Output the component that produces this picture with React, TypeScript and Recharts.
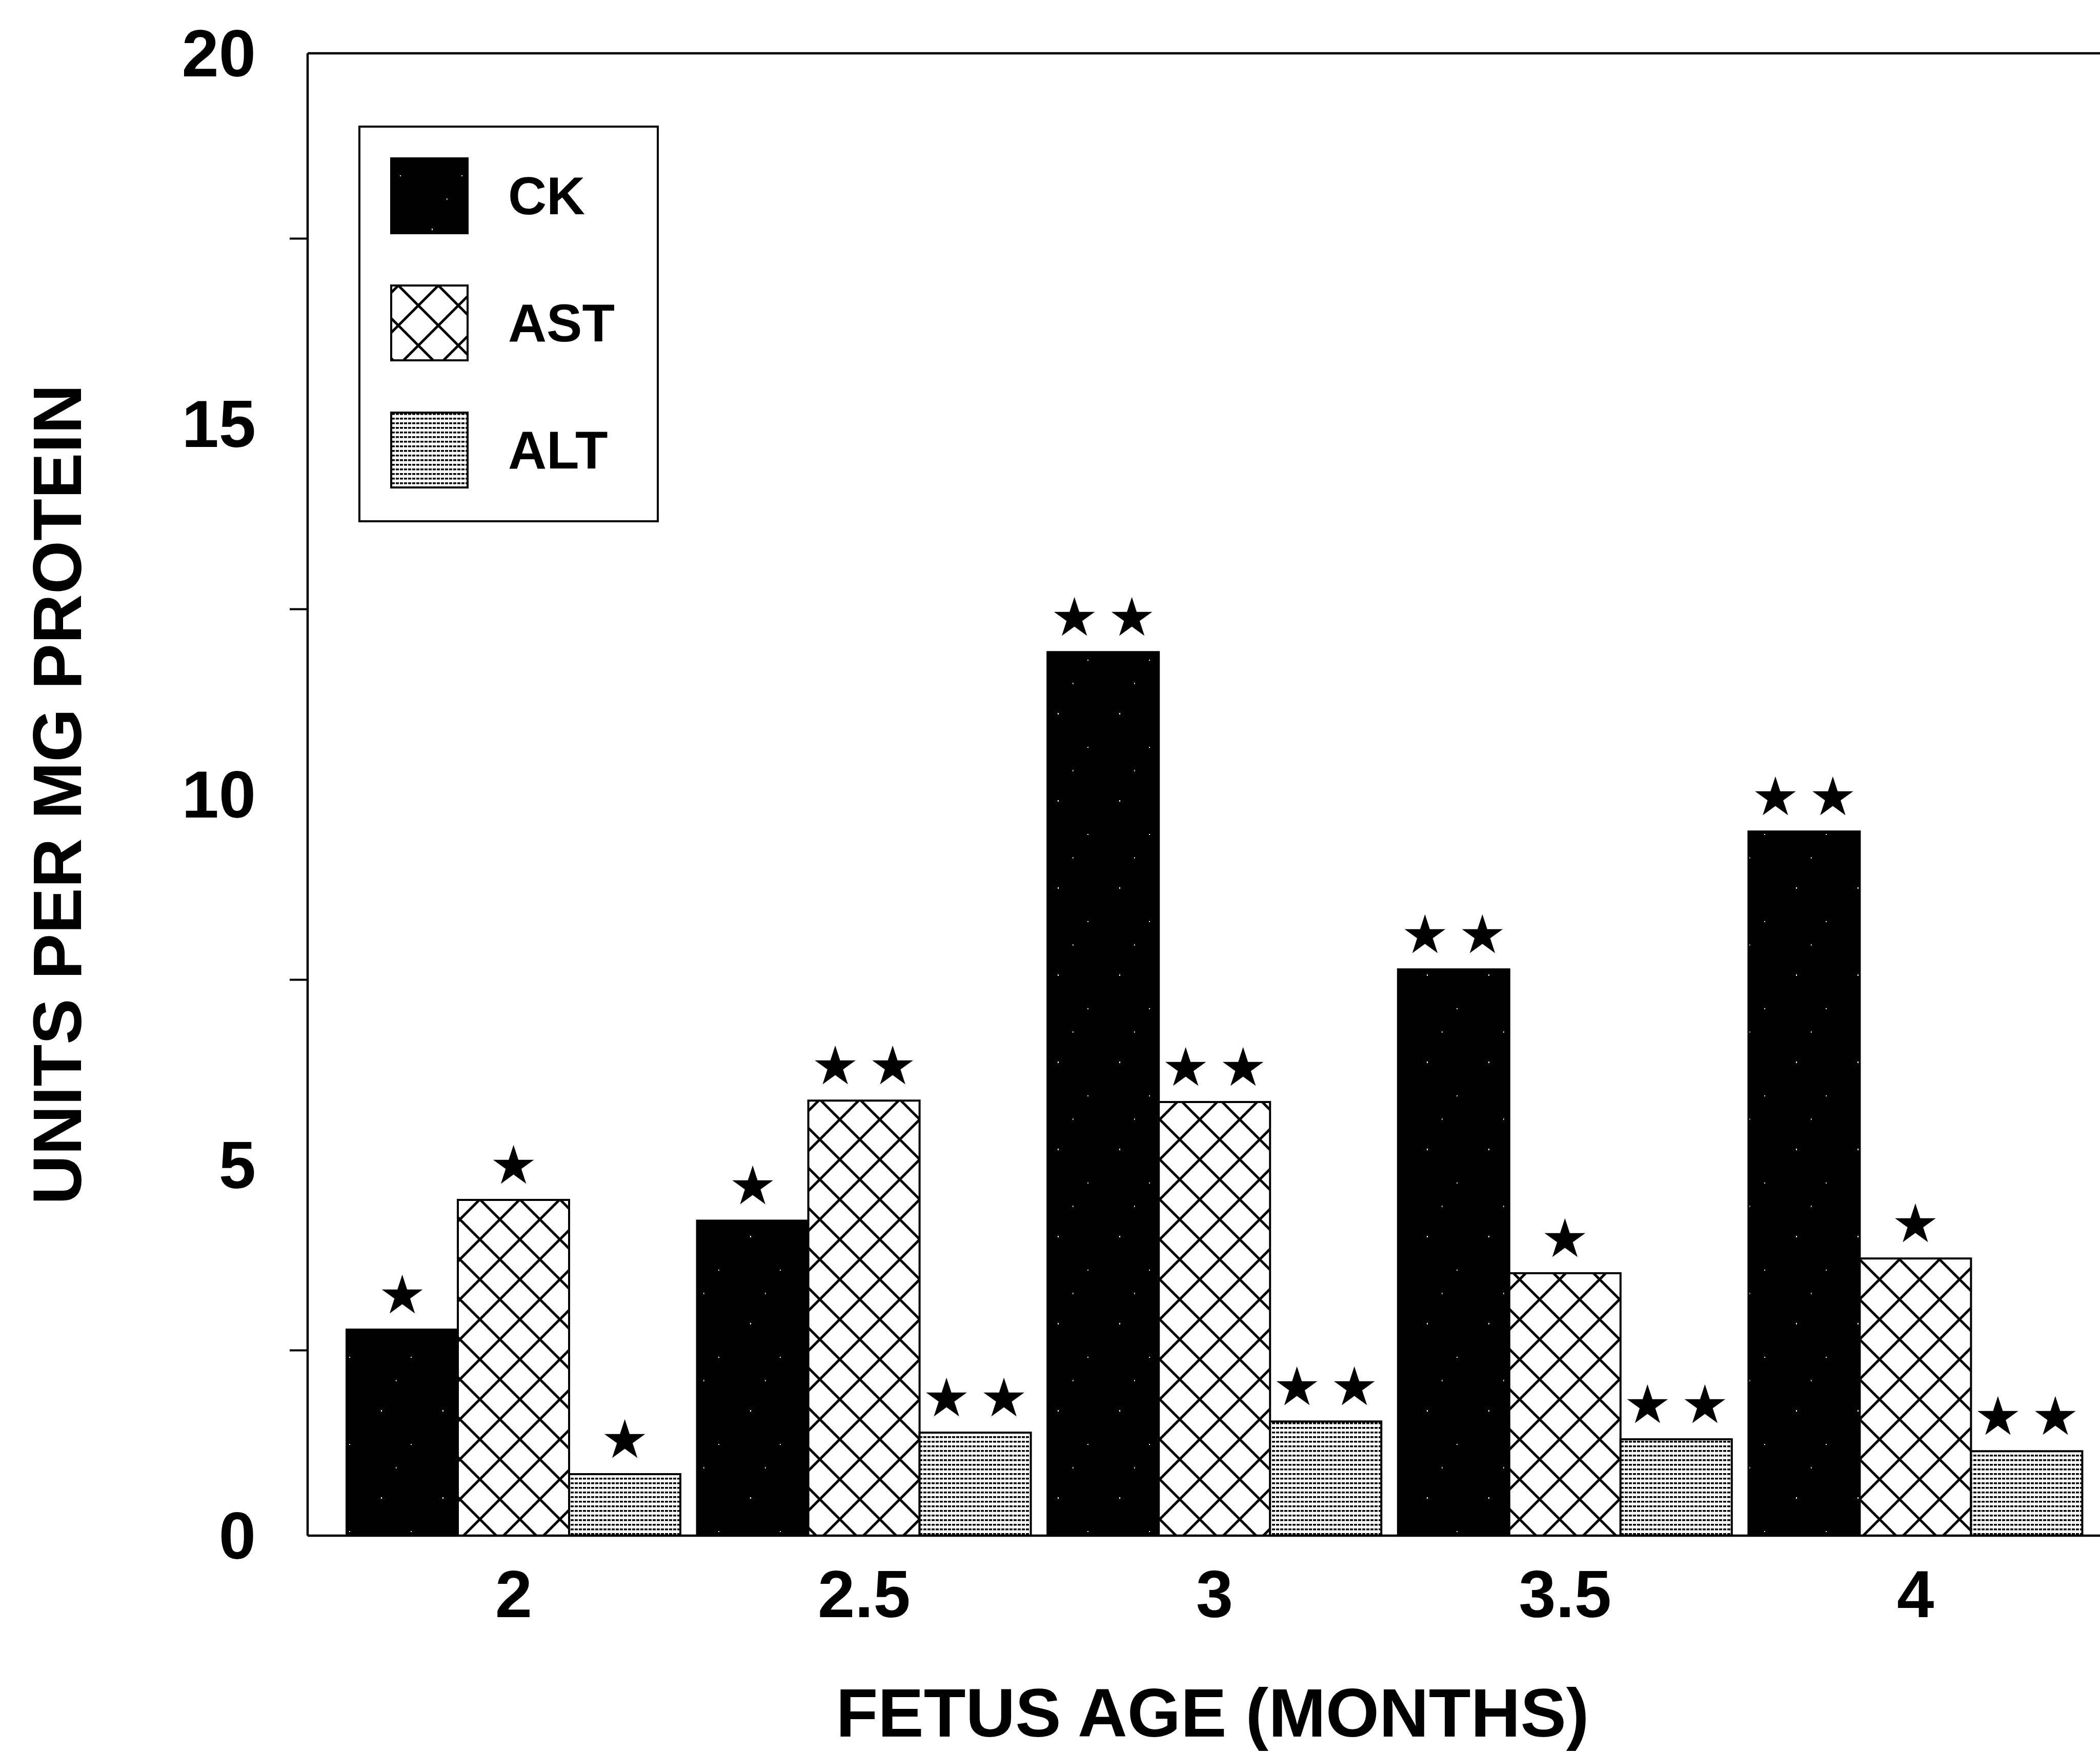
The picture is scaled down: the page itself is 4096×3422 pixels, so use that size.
import { BarChart, Bar, XAxis, YAxis, ReferenceLine, Legend, LabelList, Label } from "recharts";

// fetus age groups (months)
const ages = ["2", "2.5", "3", "3.5", "4"];
// enzyme activity, units per mg protein
const ck = [2.78, 4.25, 11.92, 7.64, 9.5];
const ast = [4.53, 5.87, 5.85, 3.54, 3.74];
const alt = [0.83, 1.39, 1.54, 1.3, 1.14];
// significance marks above each bar
const ckSig = ["*", "*", "**", "**", "**"];
const astSig = ["*", "**", "**", "*", "*"];
const altSig = ["*", "**", "**", "**", "**"];
// y axis: labelled values and the small unlabelled ticks between them
const majorTicks = [0, 5, 10, 15, 20];
const minorTicks = [2.5, 7.5, 12.5, 17.5];
const allTicks = [...majorTicks, ...minorTicks].sort((a, b) => a - b);
const seriesOrder = ["ck", "ast", "alt"];

const data = ages.map((age, i) => ({
  age,
  ck: ck[i],
  ast: ast[i],
  alt: alt[i],
  ckSig: ckSig[i],
  astSig: astSig[i],
  altSig: altSig[i],
}));

const W = 4096;
const H = 3422;
const AXIS_X = 600;
const PLOT_TOP = 104;
const PLOT_BOTTOM = 2996;
const FONT = "'Liberation Sans', Arial, Helvetica, sans-serif";

const Patterns = ({ id }: { id: string }) => (
  <defs>
    <pattern id={`${id}-ck`} width={120} height={170} patternUnits="userSpaceOnUse">
      <rect width={120} height={170} fill="#000" />
      <rect x={23} y={31} width={2} height={3} fill="#fff" />
      <rect x={81} y={97} width={2} height={2} fill="#fff" />
      <rect x={52} y={142} width={1.5} height={3} fill="#fff" />
    </pattern>
    <pattern id={`${id}-ast`} width={78} height={78} patternUnits="userSpaceOnUse">
      <rect width={78} height={78} fill="#fff" />
      <path d="M-6,-6 L84,84 M84,-6 L-6,84" stroke="#000" strokeWidth={5} />
    </pattern>
    <pattern id={`${id}-alt`} width={8} height={9} patternUnits="userSpaceOnUse">
      <rect width={8} height={9} fill="#fff" />
      <rect x={1} y={3} width={6} height={3.5} fill="#000" />
    </pattern>
  </defs>
);

const Stars = (props: any) => {
  const vb = props.viewBox ?? props;
  const x = props.x ?? vb.x;
  const y = props.y ?? vb.y;
  const width = props.width ?? vb.width;
  const n = String(props.value ?? "").length;
  const cx = x + width / 2;
  const cy = y - 68;
  const offsets = n === 2 ? [-56, 56] : [0];
  return (
    <g>
      {offsets.map((o, i) => (
        <text
          key={i}
          x={cx + o}
          y={cy}
          textAnchor="middle"
          dominantBaseline="central"
          fontSize={104}
          fontFamily="'DejaVu Sans', sans-serif"
          fill="#000"
        >
          ★
        </text>
      ))}
    </g>
  );
};

const YTick = (props: any) => {
  const { y, payload } = props;
  const v = payload.value;
  if (minorTicks.includes(v)) {
    return <line x1={AXIS_X - 35} x2={AXIS_X} y1={y} y2={y} stroke="#000" strokeWidth={4} />;
  }
  return (
    <text
      x={AXIS_X - 101}
      y={y}
      textAnchor="end"
      dominantBaseline="central"
      fontSize={130}
      fontWeight="bold"
      fontFamily={FONT}
      fill="#000"
    >
      {v}
    </text>
  );
};

const XTick = (props: any) => {
  const { x, payload } = props;
  return (
    <text
      x={x}
      y={PLOT_BOTTOM + 114}
      textAnchor="middle"
      dominantBaseline="central"
      fontSize={130}
      fontWeight="bold"
      fontFamily={FONT}
      fill="#000"
    >
      {payload.value}
    </text>
  );
};

const YTitle = (props: any) => {
  const vb = props.viewBox;
  const x = vb.x + 111;
  const y = vb.y + vb.height / 2;
  return (
    <text
      x={x}
      y={y}
      transform={`rotate(-90, ${x}, ${y})`}
      textAnchor="middle"
      dominantBaseline="central"
      fontSize={134}
      fontWeight="bold"
      fontFamily={FONT}
      fill="#000"
    >
      UNITS PER MG PROTEIN
    </text>
  );
};

const XTitle = (props: any) => {
  const vb = props.viewBox;
  return (
    <text
      x={vb.x + 1765}
      y={vb.y + 345}
      textAnchor="middle"
      dominantBaseline="central"
      fontSize={134}
      fontWeight="bold"
      fontFamily={FONT}
      fill="#000"
    >
      FETUS AGE (MONTHS)
    </text>
  );
};

const LegendBox = (props: any) => {
  const items = [...(props.payload || [])].sort(
    (a: any, b: any) => seriesOrder.indexOf(a.dataKey) - seriesOrder.indexOf(b.dataKey)
  );
  return (
    <svg width={586} height={774} style={{ display: "block" }}>
      <Patterns id="leg" />
      <rect x={2} y={2} width={582} height={770} fill="#fff" stroke="#000" strokeWidth={4} />
      {items.map((entry: any, i: number) => {
        const top = 64 + i * 248;
        return (
          <g key={entry.value}>
            <rect
              x={64}
              y={top}
              width={149}
              height={146}
              fill={`url(#leg-${entry.dataKey})`}
              stroke="#000"
              strokeWidth={4}
            />
            <text
              x={292}
              y={top + 73}
              dominantBaseline="central"
              fontSize={104}
              fontWeight="bold"
              fontFamily={FONT}
              fill="#000"
            >
              {entry.value}
            </text>
          </g>
        );
      })}
    </svg>
  );
};

export default function App() {
  return (
    <div style={{ position: "fixed", left: 0, top: 0, width: W, height: H, background: "#fff" }}>
      <BarChart
        width={W}
        height={H}
        data={data}
        margin={{ top: PLOT_TOP, right: 0, bottom: 0, left: 0 }}
        barSize={217}
        barGap={0}
      >
        <Patterns id="bar" />
        <XAxis
          dataKey="age"
          height={H - PLOT_BOTTOM}
          padding={{ left: 60, right: 18 }}
          axisLine={{ stroke: "#000", strokeWidth: 4.5 }}
          tickLine={false}
          tick={<XTick />}
          interval={0}
        >
          <Label content={<XTitle />} />
        </XAxis>
        <YAxis
          type="number"
          domain={[0, 20]}
          ticks={allTicks}
          interval={0}
          width={AXIS_X}
          axisLine={{ stroke: "#000", strokeWidth: 4.5 }}
          tickLine={false}
          tick={<YTick />}
        >
          <Label content={<YTitle />} />
        </YAxis>
        <ReferenceLine y={20} stroke="#000" strokeWidth={4.5} />
        <Legend
          layout="vertical"
          align="center"
          verticalAlign="middle"
          content={<LegendBox />}
          wrapperStyle={{ position: "absolute", left: 699, top: 245, width: 586, height: 774, margin: 0, padding: 0 }}
        />
        <Bar dataKey="ck" name="CK" fill="url(#bar-ck)" stroke="#000" strokeWidth={4} isAnimationActive={false}>
          <LabelList dataKey="ckSig" content={<Stars />} />
        </Bar>
        <Bar dataKey="ast" name="AST" fill="url(#bar-ast)" stroke="#000" strokeWidth={4} isAnimationActive={false}>
          <LabelList dataKey="astSig" content={<Stars />} />
        </Bar>
        <Bar dataKey="alt" name="ALT" fill="url(#bar-alt)" stroke="#000" strokeWidth={4} isAnimationActive={false}>
          <LabelList dataKey="altSig" content={<Stars />} />
        </Bar>
      </BarChart>
    </div>
  );
}
